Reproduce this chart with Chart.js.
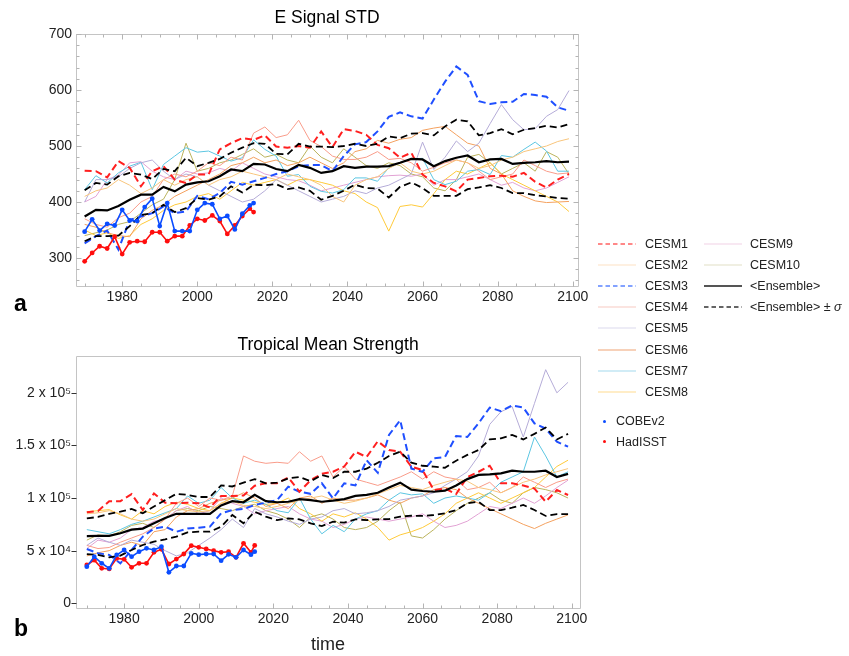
<!DOCTYPE html>
<html>
<head>
<meta charset="utf-8">
<script src="https://cdn.jsdelivr.net/npm/chart.js@4.4.1/dist/chart.umd.min.js"></script>
<style>
  html, body { margin: 0; padding: 0; background: #fff; }
  body { width: 849px; height: 656px; position: relative; overflow: hidden;
         font-family: "Liberation Sans", Arial, sans-serif; }
  .panel { position: absolute; }
  #topWrap { left: 0; top: 0; width: 600px; height: 312px; }
  #botWrap { left: 0; top: 318px; width: 600px; height: 338px; }
  .tag { position: absolute; font-weight: bold; font-size: 23px; line-height: 24px; color: #000; }
  .lg { position: absolute; font-size: 12.5px; line-height: 14px; color: #222; white-space: nowrap; }
  .lgline { position: absolute; }
</style>
</head>
<body>
<div id="topWrap" class="panel"><canvas id="topChart"></canvas></div>
<div id="botWrap" class="panel"><canvas id="botChart"></canvas></div>
<div class="tag" style="left:14px; top:291px;">a</div>
<div class="tag" style="left:14px; top:616px;">b</div>
<div id="legend"></div>

<script>
// ---- sampling years ----
const modelYears = [1970, 1973, 1976, 1979, 1982, 1985, 1988, 1991, 1994, 1997, 2000,
  2003, 2006, 2009, 2012, 2015, 2018, 2021, 2024, 2027, 2030, 2033, 2036, 2039, 2042,
  2045, 2048, 2051, 2054, 2057, 2060, 2063, 2066, 2069, 2072, 2075, 2078, 2081, 2084,
  2087, 2090, 2093, 2096, 2099];
const obsYears = [1970, 1972, 1974, 1976, 1978, 1980, 1982, 1984, 1986, 1988, 1990,
  1992, 1994, 1996, 1998, 2000, 2002, 2004, 2006, 2008, 2010, 2012, 2014, 2015];

// ---- panel a: E signal standard deviation ----
const stdCESM1 = [456,455,444,473,461,428,455,464,440,434,449,449,494,505,514,511,519,499,497,500,497,526,498,530,527,520,502,496,479,488,449,434,428,419,440,443,446,447,445,452,436,426,440,450];
const stdCESM2 = [410,420,425,440,430,415,425,440,430,440,445,430,440,445,455,450,445,440,450,445,440,430,410,400,430,440,445,460,470,455,450,455,465,475,470,460,465,475,480,490,495,500,508,513];
const stdCESM3 = [326,339,349,315,368,374,380,392,380,383,411,405,416,436,431,437,443,450,455,464,466,466,455,482,503,507,526,552,560,553,549,583,615,642,627,580,575,578,579,593,591,588,569,563];
const stdCESM4 = [370,360,355,372,380,400,410,440,450,445,455,470,465,480,475,523,534,515,520,546,510,499,482,476,476,480,490,476,478,470,455,462,470,475,470,455,440,445,450,475,465,455,450,452];
const stdCESM5 = [400,440,440,445,460,470,475,455,440,450,445,430,420,410,400,405,420,440,430,420,410,400,405,410,420,415,425,430,440,450,507,458,480,509,490,505,540,574,547,529,531,553,565,599];
const stdCESM6 = [360,355,345,340,338,370,385,395,410,420,430,440,450,465,470,480,470,475,465,470,480,470,460,470,490,495,510,505,512,515,528,532,535,520,505,500,460,450,420,410,402,399,400,401];
const stdCESM7 = [422,447,434,452,464,471,422,467,482,497,489,491,482,473,479,511,494,482,446,449,428,419,416,422,443,443,437,461,470,477,478,440,431,437,455,458,449,483,480,494,507,491,455,455];
const stdCESM8 = [350,340,345,335,340,360,370,385,395,400,410,415,405,420,435,430,435,440,430,440,440,435,430,420,415,400,390,348,392,395,391,415,440,455,450,460,470,450,440,430,420,410,400,383];
const stdCESM9 = [400,410,440,448,470,472,455,445,440,455,450,452,460,455,470,460,450,445,440,438,430,420,425,430,435,440,445,447,448,446,450,430,440,440,445,450,440,430,435,425,420,425,435,445];
const stdCESM10 = [340,345,350,360,365,380,395,405,440,505,455,460,470,475,485,495,480,485,475,470,500,480,470,495,480,465,460,470,465,450,445,425,420,440,480,485,470,450,460,470,455,490,480,450];
const stdEnsemble = [374,386,385,393,404,413,413,427,419,431,435,437,446,458,455,468,467,459,455,466,461,452,455,464,461,463,463,464,470,477,476,464,473,479,483,471,476,477,468,470,471,473,471,472];
const stdEnsembleHi = [421,434,431,446,452,449,441,459,455,479,464,470,477,488,497,505,504,486,485,504,499,499,498,500,504,500,504,517,514,522,523,519,535,547,544,519,523,530,521,529,532,536,533,539];
const stdEnsembleLo = [330,339,339,340,357,377,380,395,382,389,407,404,410,428,417,431,430,432,423,426,420,404,411,420,431,425,424,408,427,435,425,411,411,411,423,426,430,425,416,416,412,410,407,406];
const stdCOBE = [347,369,349,361,358,386,367,366,391,406,357,398,348,348,348,386,398,396,370,375,351,379,394,398];
const stdHadISST = [294,309,321,317,338,307,328,330,329,346,346,330,339,339,358,370,367,376,366,343,358,375,388,382];

// ---- panel b: tropical mean strength ----
const tmsCESM1 = [86400,87700,97000,97000,103800,88600,104400,95600,95000,95600,95000,91000,102000,102000,102500,111700,114000,114000,119600,106000,117000,123000,125000,130000,144000,139000,154000,145600,144000,129800,126600,107600,109000,103800,120000,125000,130700,114000,114000,112000,109000,96500,107600,102900];
const tmsCESM2 = [85000,86000,88000,85000,80000,78000,80000,85000,90000,88000,87000,88000,95000,97000,93000,92000,90000,92000,95000,98000,100000,102000,98000,95000,97000,100000,104000,108000,112000,110000,108000,112000,115000,118000,116000,110000,108000,105000,110000,115000,118000,122000,125000,128000];
const tmsCESM3 = [51600,47500,46000,38000,50600,63300,71000,72800,68000,71000,71800,72800,85500,88600,89600,93400,95600,98000,110800,106000,104000,114000,99700,114000,112000,136000,124000,160000,174000,128000,125000,137700,139000,159000,158000,171000,186000,182600,188000,186000,171000,166000,153500,148800];
const tmsCESM4 = [55000,52000,53000,58000,62000,66000,72000,80000,95000,100000,92000,100000,98000,102000,140000,135000,133000,134000,133000,144000,135000,140000,120000,130000,118000,115000,112000,116000,120000,125000,118000,125000,120000,118000,108000,110000,115000,105000,110000,120000,115000,110000,115000,118000];
const tmsCESM5 = [55000,62000,58000,55000,60000,58000,56000,50000,45000,48000,55000,62000,70000,80000,72000,90000,85000,82000,78000,75000,80000,82000,88000,90000,85000,86000,88000,92000,98000,100000,102000,105000,112000,118000,125000,140000,170000,182000,187000,158000,190000,222000,200000,210000];
const tmsCESM6 = [45000,48000,50000,55000,58000,55000,68000,70000,82000,88000,90000,95000,98000,100000,105000,100000,92000,95000,90000,100000,102000,95000,100000,98000,98000,100000,103000,98000,95000,100000,102000,108000,110000,108000,100000,95000,90000,85000,80000,75000,71000,76000,80000,84000];
const tmsCESM7 = [70000,68000,66000,70000,75000,78000,82000,86000,90000,102000,95000,98000,110000,100000,95000,98000,94000,88000,86000,100000,80000,66000,74000,68000,80000,85000,88000,98000,105000,103000,104000,95000,100000,102000,100000,98000,105000,115000,120000,125000,158000,140000,120000,125000];
const tmsCESM8 = [87000,88000,89000,84000,80000,88000,85000,92000,96000,94000,90000,88000,95000,100000,98000,96000,94000,95000,100000,90000,85000,78000,85000,82000,86000,80000,72000,60000,65000,68000,72000,78000,85000,95000,100000,105000,100000,95000,100000,105000,110000,120000,130000,136000];
const tmsCESM9 = [52000,60000,58000,62000,70000,72000,78000,80000,88000,92000,85000,88000,100000,95000,92000,85000,88000,90000,92000,85000,80000,78000,72000,75000,80000,82000,80000,78000,80000,82000,85000,78000,72000,74000,78000,85000,92000,90000,95000,100000,95000,102000,110000,117000];
const tmsCESM10 = [60000,65000,64000,68000,74000,76000,72000,80000,88000,90000,88000,92000,90000,88000,92000,94000,88000,85000,80000,72000,82000,85000,80000,72000,70000,72000,78000,88000,96000,64000,62000,70000,80000,88000,95000,100000,105000,98000,95000,105000,110000,108000,105000,100000];
const tmsEnsemble = [63900,64000,64000,66500,70000,71000,76000,81000,85000,85000,85000,85000,93000,97000,96000,103000,97000,96000,96500,99000,98100,96500,97500,99000,102000,103000,105000,110000,114600,108000,106700,106000,107000,112000,118000,122000,122500,123400,126000,125000,125000,126000,120000,123000];
const tmsEnsembleHi = [80700,82000,85000,87000,89600,85500,92000,98000,104000,103000,101000,101000,112000,111000,114600,118000,114000,114600,118700,120000,116000,122000,119000,125000,125000,128000,133500,140000,144000,133600,130700,129800,128800,135500,141000,145600,155700,156700,160000,155700,161000,167000,155700,161000];
const tmsEnsembleLo = [46800,46000,43700,45300,50600,55400,58600,60800,63300,67400,68000,68000,72800,83900,76000,87000,82300,79000,80700,79800,76000,73400,77500,76600,79800,79000,79800,80000,82300,83200,83000,83900,85500,88600,95000,96500,88600,88600,90800,93400,88600,83000,84800,84800];
const tmsCOBE = [34800,44300,38000,33200,45900,50600,44300,49000,52200,50600,53800,29400,35400,35400,47500,46200,46800,46800,40500,46500,43700,50600,46200,49000];
const tmsHadISST = [36400,41000,33200,32600,42700,41800,34200,38000,38000,48400,51300,37300,42000,46800,54700,53200,51600,50000,48400,49000,43700,57000,48400,55000];

// ---- axis ticks ----
const yearTicks = [1980, 2000, 2020, 2040, 2060, 2080, 2100];
const stdTicks = [300, 400, 500, 600, 700];
const tmsTicks = [0, 50000, 100000, 150000, 200000];
const tmsTickLabels = ['0', '5 x 10\u2074', '1 x 10\u2075', '1.5 x 10\u2075', '2 x 10\u2075'];

// ---- series styling ----
const seriesNames = ['CESM1','CESM2','CESM3','CESM4','CESM5','CESM6','CESM7','CESM8','CESM9','CESM10'];
const lineColors = {
  CESM1: '#ff1f1f', CESM2: '#f8c57c', CESM3: '#1f4fff', CESM4: '#f99c8a', CESM5: '#b5acd8',
  CESM6: '#f4a15f', CESM7: '#5cc6e2', CESM8: '#ffca3a', CESM9: '#e2a2d4', CESM10: '#bbb35c'
};
const legendColors = {
  CESM1: '#ff6262', CESM2: '#fde2c3', CESM3: '#5b84ff', CESM4: '#f8cac2', CESM5: '#dcdaee',
  CESM6: '#f5c2a2', CESM7: '#a4d9ee', CESM8: '#ffdb90', CESM9: '#f2d2e6', CESM10: '#e2e0c6'
};
const dashedModels = { CESM1: true, CESM3: true };
const FONT = '"Liberation Sans", Arial, sans-serif';

function pts(xs, ys) { return ys.map((v, i) => ({ x: xs[i], y: v })); }

function buildDatasets(models, ens, hi, lo, cobe, had) {
  const ds = [];
  ds.push({ label: 'COBEv2', data: pts(obsYears, cobe), borderColor: '#0a4cff', backgroundColor: '#0a4cff',
    borderWidth: 1.6, pointRadius: 2.4, pointBorderWidth: 0, order: 0 });
  ds.push({ label: 'HadISST', data: pts(obsYears, had), borderColor: '#ff0d0d', backgroundColor: '#ff0d0d',
    borderWidth: 1.6, pointRadius: 2.4, pointBorderWidth: 0, order: 0 });
  ds.push({ label: '<Ensemble> + \u03c3', data: pts(modelYears, hi), borderColor: '#000', borderWidth: 1.8,
    borderDash: [7, 4], pointRadius: 0, order: 1 });
  ds.push({ label: '<Ensemble> - \u03c3', data: pts(modelYears, lo), borderColor: '#000', borderWidth: 1.8,
    borderDash: [7, 4], pointRadius: 0, order: 1 });
  ds.push({ label: '<Ensemble>', data: pts(modelYears, ens), borderColor: '#000', borderWidth: 2.2,
    pointRadius: 0, order: 2 });
  seriesNames.forEach((name, i) => {
    const dashed = !!dashedModels[name];
    ds.push({ label: name, data: pts(modelYears, models[i]), borderColor: lineColors[name],
      borderWidth: dashed ? 2 : 1, borderDash: dashed ? [7, 4] : [], pointRadius: 0,
      order: dashed ? 3 : 5 });
  });
  return ds;
}

// Mathematica-style frame with tick marks drawn inside the plot box
const frameTicks = {
  id: 'frameTicks',
  afterDatasetsDraw(chart, args, o) {
    const { ctx, chartArea: a } = chart;
    const xs = chart.scales.x, ys = chart.scales.y;
    const L = Math.round(a.left) + 0.5, R = Math.round(a.right) + 0.5;
    const T = Math.round(a.top) + 0.5, B = Math.round(a.bottom) + 0.5;
    ctx.save();
    ctx.lineWidth = 1;
    ctx.strokeStyle = o.frameColor;
    ctx.beginPath();
    ctx.rect(L, T, R - L, B - T);
    ctx.stroke();
    const draw = (axis, values, len, color, sides) => {
      ctx.strokeStyle = color;
      ctx.beginPath();
      values.forEach(v => {
        if (axis === 'x') {
          const p = Math.round(xs.getPixelForValue(v)) + 0.5;
          if (p < L || p > R) return;
          if (sides.includes('bottom')) { ctx.moveTo(p, B); ctx.lineTo(p, B - len); }
          if (sides.includes('top')) { ctx.moveTo(p, T); ctx.lineTo(p, T + len); }
        } else {
          const p = Math.round(ys.getPixelForValue(v)) + 0.5;
          if (p < T || p > B) return;
          if (sides.includes('left')) { ctx.moveTo(L + (o.yOut ? -len : 0), p); ctx.lineTo(L + (o.yOut ? 0 : len), p); }
          if (sides.includes('right')) { ctx.moveTo(R, p); ctx.lineTo(R - len, p); }
        }
      });
      ctx.stroke();
    };
    const minorList = (scale, step) => {
      const out = [];
      for (let v = Math.ceil(scale.min / step) * step; v <= scale.max; v += step) out.push(v);
      return out;
    };
    if (o.xMinor) draw('x', minorList(xs, o.xMinor), 3, o.tickColor, o.xSides);
    draw('x', o.xMajor, 5, o.tickColor, o.xSides);
    if (o.yMinor) draw('y', minorList(ys, o.yMinor), 3, o.tickColor, o.ySides);
    draw('y', o.yMajor, 5, o.yMajorColor || o.tickColor, o.ySides);
    ctx.restore();
  }
};

function makeChart(id, cfg) {
  return new Chart(document.getElementById(id), {
    type: 'line',
    data: { datasets: cfg.datasets },
    plugins: [frameTicks],
    options: {
      responsive: true,
      maintainAspectRatio: false,
      animation: false,
      layout: { padding: { left: 0, right: cfg.padRight, top: 0, bottom: 0 } },
      elements: { line: { tension: 0 } },
      plugins: {
        legend: { display: false },
        tooltip: { enabled: false },
        title: { display: true, text: cfg.title, fullSize: false, color: '#000',
          font: { family: FONT, size: 17.5, weight: 'normal' },
          padding: cfg.titlePad },
        frameTicks: cfg.frame
      },
      scales: {
        x: {
          type: 'linear', min: cfg.xMin, max: cfg.xMax,
          grid: { display: false, drawTicks: false }, border: { display: false },
          afterBuildTicks: s => { s.ticks = yearTicks.map(v => ({ value: v })); },
          afterFit: s => { s.height = cfg.xHeight; },
          ticks: { color: '#222', font: { family: FONT, size: 14 }, padding: 3, maxRotation: 0,
            autoSkip: false, callback: v => String(v) },
          title: cfg.xTitle
        },
        y: {
          type: 'linear', min: cfg.yMin, max: cfg.yMax,
          grid: { display: false, drawTicks: false }, border: { display: false },
          afterBuildTicks: s => { s.ticks = cfg.yTicks.map(v => ({ value: v })); },
          afterFit: s => { s.width = 76; },
          ticks: { color: '#222', font: { family: FONT, size: 14 }, padding: cfg.yPad, autoSkip: false,
            callback: cfg.yLabel }
        }
      }
    }
  });
}

makeChart('topChart', {
  title: 'E Signal STD',
  titlePad: { top: 8, bottom: 5 },
  padRight: 22,
  xMin: 1967.7, xMax: 2101.4, xHeight: 26,
  yMin: 250, yMax: 700, yTicks: stdTicks, yPad: 4,
  yLabel: v => String(v),
  xTitle: { display: false },
  frame: { frameColor: '#c4c4c4', tickColor: '#b4b4b4', xMajor: yearTicks, xMinor: 5,
    xSides: ['bottom', 'top'], yMajor: stdTicks, yMinor: 20, ySides: ['left', 'right'] },
  datasets: buildDatasets(
    [stdCESM1, stdCESM2, stdCESM3, stdCESM4, stdCESM5, stdCESM6, stdCESM7, stdCESM8, stdCESM9, stdCESM10],
    stdEnsemble, stdEnsembleHi, stdEnsembleLo, stdCOBE, stdHadISST)
});

makeChart('botChart', {
  title: 'Tropical Mean Strength',
  titlePad: { top: 17, bottom: 0 },
  padRight: 20,
  xMin: 1967.1, xMax: 2102.2, xHeight: 48,
  yMin: -4500, yMax: 235000, yTicks: tmsTicks, yPad: 5,
  yLabel: v => tmsTickLabels[tmsTicks.indexOf(v)],
  xTitle: { display: true, text: 'time', color: '#222', font: { family: FONT, size: 18 },
    padding: { top: 0, bottom: 0 } },
  frame: { frameColor: '#c4c4c4', tickColor: '#b4b4b4', xMajor: yearTicks, xMinor: 5,
    xSides: ['bottom'], yMajor: tmsTicks, yMinor: 0, ySides: ['left'], yMajorColor: '#333', yOut: true },
  datasets: buildDatasets(
    [tmsCESM1, tmsCESM2, tmsCESM3, tmsCESM4, tmsCESM5, tmsCESM6, tmsCESM7, tmsCESM8, tmsCESM9, tmsCESM10],
    tmsEnsemble, tmsEnsembleHi, tmsEnsembleLo, tmsCOBE, tmsHadISST)
});

// ---- shared legend ----
const legendEl = document.getElementById('legend');
const SVGNS = 'http://www.w3.org/2000/svg';
function lineSample(x, y, color, width, dash) {
  const svg = document.createElementNS(SVGNS, 'svg');
  svg.setAttribute('width', 40); svg.setAttribute('height', 6);
  svg.setAttribute('class', 'lgline');
  svg.style.left = x + 'px'; svg.style.top = (y - 3) + 'px';
  const ln = document.createElementNS(SVGNS, 'line');
  ln.setAttribute('x1', 0); ln.setAttribute('x2', 38); ln.setAttribute('y1', 3); ln.setAttribute('y2', 3);
  ln.setAttribute('stroke', color); ln.setAttribute('stroke-width', width);
  if (dash) ln.setAttribute('stroke-dasharray', dash);
  svg.appendChild(ln);
  legendEl.appendChild(svg);
}
function legendText(x, y, html) {
  const d = document.createElement('div');
  d.className = 'lg';
  d.style.left = x + 'px'; d.style.top = (y - 7) + 'px';
  d.innerHTML = html;
  legendEl.appendChild(d);
}
const rowY = i => 243.5 + 21.2 * i;
seriesNames.forEach((name, i) => {
  const col = i < 8 ? 0 : 1;
  const row = i < 8 ? i : i - 8;
  const lx = col ? 704 : 598, tx = col ? 750 : 645;
  const dashed = !!dashedModels[name];
  lineSample(lx, rowY(row), legendColors[name], dashed ? 1.3 : (name === 'CESM6' ? 1.6 : 1.2), dashed ? '4.5,3' : null);
  legendText(tx, rowY(row), name);
});
lineSample(704, rowY(2), '#555', 2, null);
legendText(750, rowY(2), '&lt;Ensemble&gt;');
lineSample(704, rowY(3), '#333', 1.3, '4.5,3');
legendText(750, rowY(3), '&lt;Ensemble&gt; \u00b1 <i>\u03c3</i>');

function dotEntry(y, color, label) {
  const d = document.createElement('div');
  d.style.cssText = 'position:absolute;width:3px;height:3px;border-radius:50%;left:603px;top:' + (y - 1.5) + 'px;background:' + color;
  legendEl.appendChild(d);
  legendText(616, y, label);
}
dotEntry(421, '#0a4cff', 'COBEv2');
dotEntry(441.5, '#ff0d0d', 'HadISST');
</script>
</body>
</html>
